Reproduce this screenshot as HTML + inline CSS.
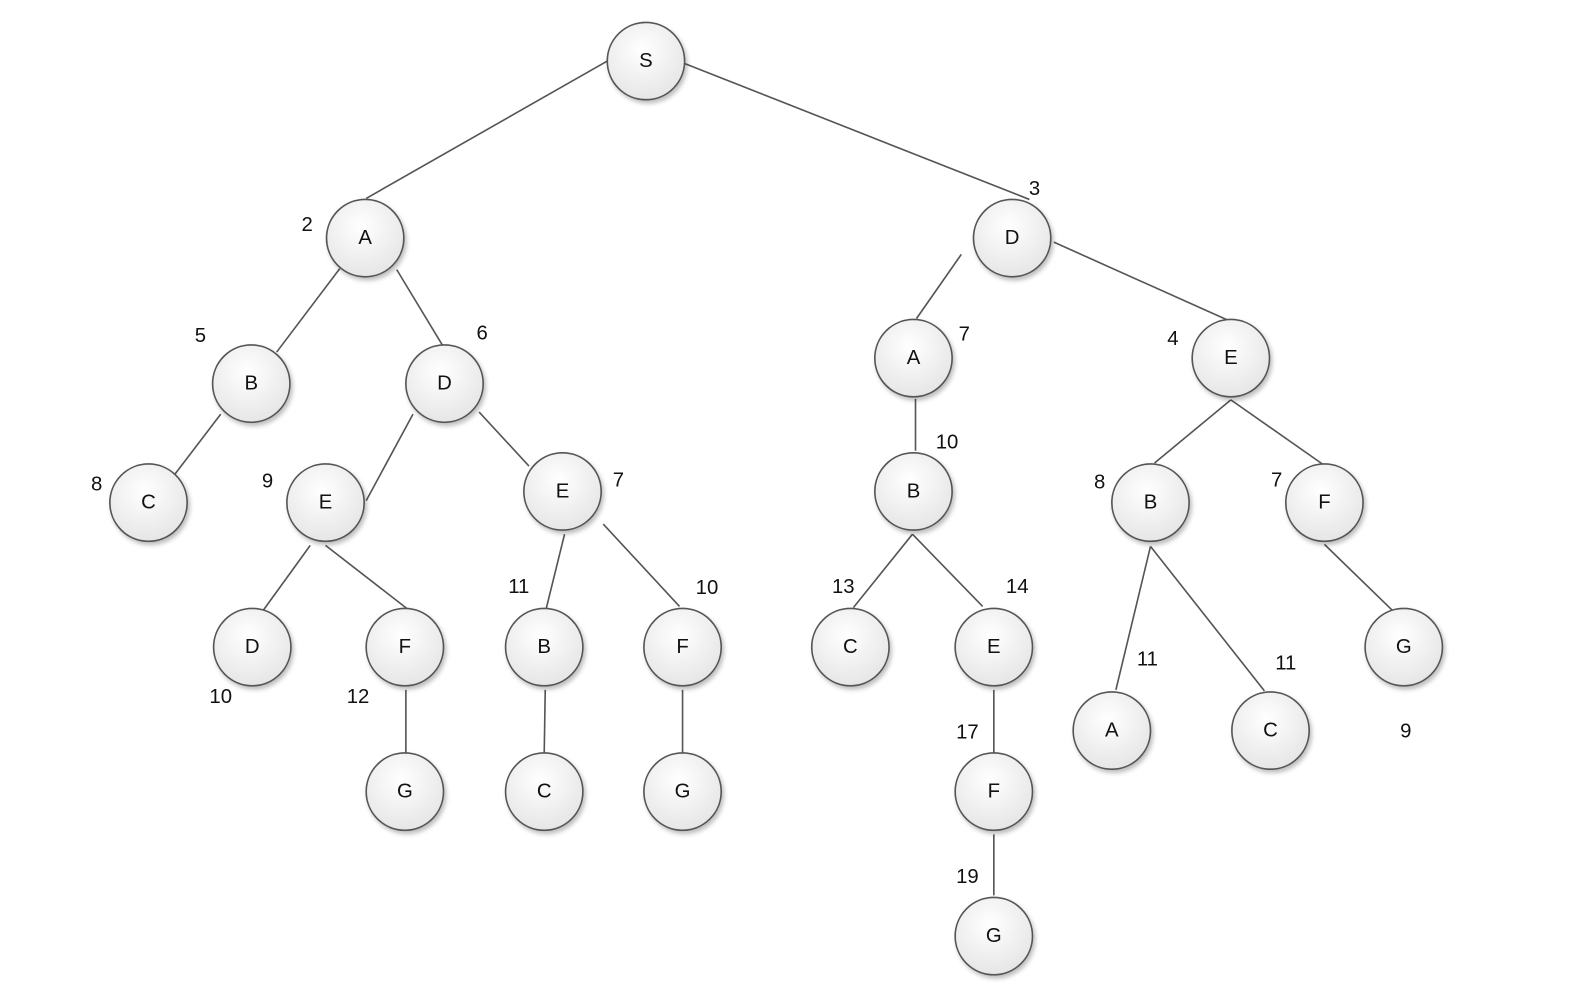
<!DOCTYPE html>
<html><head><meta charset="utf-8"><style>
html,body{margin:0;padding:0;background:#fff;}
svg{display:block;}
text{font-family:"Liberation Sans",Arial,sans-serif;}
</style></head><body>
<svg width="1594" height="988" viewBox="0 0 1567 971" preserveAspectRatio="none" xmlns="http://www.w3.org/2000/svg">
<defs>
<radialGradient id="g" cx="45%" cy="35%" r="70%">
<stop offset="0" stop-color="#ffffff"/><stop offset="1" stop-color="#e4e4e4"/>
</radialGradient>
<filter id="s" x="-30%" y="-30%" width="160%" height="160%"><feDropShadow dx="2" dy="3" stdDeviation="2" flood-color="#000" flood-opacity="0.25"/></filter>
</defs>
<g stroke="#555" stroke-width="1.6" fill="none">
<line x1="597" y1="60" x2="360" y2="195"/>
<line x1="672" y1="62" x2="1012" y2="196"/>
<line x1="334" y1="264" x2="272" y2="346"/>
<line x1="390" y1="265" x2="436" y2="341"/>
<line x1="217" y1="407" x2="172" y2="466"/>
<line x1="406" y1="407" x2="360" y2="492"/>
<line x1="471" y1="405" x2="520" y2="458"/>
<line x1="305" y1="536" x2="255" y2="605"/>
<line x1="320" y1="536" x2="400" y2="598"/>
<line x1="555" y1="525" x2="537" y2="598"/>
<line x1="593" y1="515" x2="668" y2="596"/>
<line x1="399" y1="678" x2="399" y2="740"/>
<line x1="536" y1="678" x2="535" y2="740"/>
<line x1="671" y1="678" x2="671" y2="740"/>
<line x1="945" y1="250" x2="901" y2="313"/>
<line x1="1036" y1="238" x2="1210" y2="316"/>
<line x1="900" y1="392" x2="900" y2="443"/>
<line x1="897" y1="525" x2="839" y2="597"/>
<line x1="897" y1="525" x2="966" y2="596"/>
<line x1="977" y1="678" x2="977" y2="740"/>
<line x1="977" y1="820" x2="977" y2="880"/>
<line x1="1210" y1="393" x2="1135" y2="455"/>
<line x1="1210" y1="393" x2="1300" y2="456"/>
<line x1="1302" y1="535" x2="1370" y2="601"/>
<line x1="1131" y1="537" x2="1097" y2="678"/>
<line x1="1131" y1="537" x2="1243" y2="679"/>
</g>
<g fill="url(#g)" stroke="#555" stroke-width="1.6" filter="url(#s)">
<circle cx="635" cy="60" r="38"/><circle cx="359" cy="234" r="38"/><circle cx="995" cy="234" r="38"/>
<circle cx="247" cy="377" r="38"/><circle cx="437" cy="377" r="38"/><circle cx="146" cy="494" r="38"/>
<circle cx="320" cy="494" r="38"/><circle cx="553" cy="483" r="38"/><circle cx="248" cy="636" r="38"/>
<circle cx="398" cy="636" r="38"/><circle cx="535" cy="636" r="38"/><circle cx="671" cy="636" r="38"/>
<circle cx="398" cy="778" r="38"/><circle cx="535" cy="778" r="38"/><circle cx="671" cy="778" r="38"/>
<circle cx="898" cy="352" r="38"/><circle cx="1210" cy="352" r="38"/><circle cx="898" cy="483" r="38"/>
<circle cx="1131" cy="494" r="38"/><circle cx="1302" cy="494" r="38"/><circle cx="836" cy="636" r="38"/>
<circle cx="977" cy="636" r="38"/><circle cx="1380" cy="636" r="38"/><circle cx="1093" cy="718" r="38"/>
<circle cx="1249" cy="718" r="38"/><circle cx="977" cy="778" r="38"/><circle cx="977" cy="920" r="38"/>
</g>
<g font-size="20" fill="#111" text-anchor="middle" dominant-baseline="central">
<text x="635" y="60">S</text><text x="359" y="234">A</text><text x="995" y="234">D</text>
<text x="247" y="377">B</text><text x="437" y="377">D</text><text x="146" y="494">C</text>
<text x="320" y="494">E</text><text x="553" y="483">E</text><text x="248" y="636">D</text>
<text x="398" y="636">F</text><text x="535" y="636">B</text><text x="671" y="636">F</text>
<text x="398" y="778">G</text><text x="535" y="778">C</text><text x="671" y="778">G</text>
<text x="898" y="352">A</text><text x="1210" y="352">E</text><text x="898" y="483">B</text>
<text x="1131" y="494">B</text><text x="1302" y="494">F</text><text x="836" y="636">C</text>
<text x="977" y="636">E</text><text x="1380" y="636">G</text><text x="1093" y="718">A</text>
<text x="1249" y="718">C</text><text x="977" y="778">F</text><text x="977" y="920">G</text>
</g>
<g font-size="20" fill="#111" text-anchor="middle" dominant-baseline="central">
<text x="302" y="221">2</text><text x="1017" y="186">3</text><text x="197" y="330">5</text>
<text x="474" y="328">6</text><text x="95" y="476">8</text><text x="263" y="473">9</text>
<text x="608" y="472">7</text><text x="217" y="685">10</text><text x="352" y="685">12</text>
<text x="510" y="577">11</text><text x="695" y="578">10</text><text x="948" y="329">7</text>
<text x="1153" y="333">4</text><text x="931" y="435">10</text><text x="1081" y="474">8</text>
<text x="1255" y="472">7</text><text x="829" y="577">13</text><text x="1000" y="577">14</text>
<text x="1128" y="648">11</text><text x="1264" y="652">11</text><text x="1382" y="719">9</text>
<text x="951" y="720">17</text><text x="951" y="862">19</text>
</g>
</svg>
</body></html>
